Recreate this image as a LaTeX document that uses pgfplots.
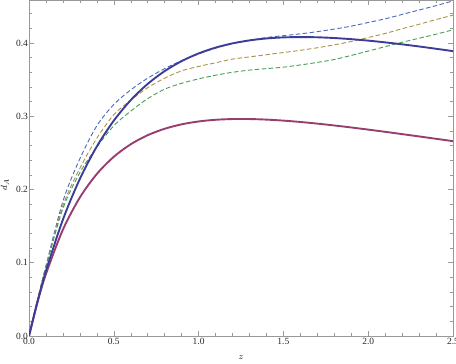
\documentclass[border=0pt]{standalone}
\usepackage{fontspec}
\setmainfont{Liberation Serif}
\usepackage{pgfplots}
\pgfplotsset{compat=1.18}
\definecolor{mblue}{rgb}{0.24,0.24,0.6}
\definecolor{mmag}{rgb}{0.6,0.24,0.44}
\definecolor{dblue}{rgb}{0.28,0.42,0.72}
\definecolor{dolive}{rgb}{0.66,0.58,0.28}
\definecolor{dgreen}{rgb}{0.26,0.62,0.35}
\begin{document}
\begin{tikzpicture}
\begin{axis}[
  scale only axis, width=424bp, height=336bp,
  xmin=0, xmax=2.5, ymin=0, ymax=0.4587,
  axis line style={gray!80},
  every tick/.style={gray!80, line width=0.5bp},
  major tick length=5bp, minor tick length=2.7bp,
  tick align=inside,
  xtick={0,0.5,1,1.5,2,2.5}, minor xtick={0.1,0.2,...,2.45},
  ytick={0,0.1,0.2,0.3,0.4}, minor ytick={0.02,0.04,...,0.46},
  xticklabel style={/pgf/number format/.cd, fixed, fixed zerofill, precision=1, assume math mode=true},
  yticklabel style={/pgf/number format/.cd, fixed, fixed zerofill, precision=1, assume math mode=true},
  tick label style={font=\fontsize{9.5}{11}\selectfont, text=black!85},
  xticklabel shift=-1.5bp, yticklabel shift=-2.5bp,
  xlabel={$z$}, ylabel={$d_A$},
  label style={font=\fontsize{9.5}{11}\selectfont},
  xlabel style={at={(axis description cs:0.5,-0.063)}, anchor=center},
  ylabel style={at={(axis description cs:-0.057,0.45)}, anchor=center, rotate=0},
  clip=true,
]
% dashed curves
\addplot[dblue, line width=0.9bp, dash pattern=on 4.5bp off 2.5bp, smooth] coordinates {
(0,0) (0.05,0.0488) (0.1,0.096) (0.2,0.184) (0.3,0.242) (0.4,0.287) (0.5,0.316)
(0.6,0.336) (0.7,0.352) (0.8,0.365) (0.9,0.376) (1.0,0.385) (1.1,0.393) (1.2,0.399)
(1.3,0.4035) (1.4,0.4075) (1.5,0.410) (1.6,0.4125) (1.7,0.4155) (1.8,0.419) (1.9,0.423)
(2.0,0.428) (2.1,0.433) (2.2,0.439) (2.3,0.445) (2.4,0.451) (2.5,0.4575)};
\addplot[dolive, line width=0.9bp, dash pattern=on 4.5bp off 2.5bp, smooth] coordinates {
(0,0) (0.05,0.0486) (0.1,0.095) (0.2,0.178) (0.3,0.229) (0.4,0.270) (0.5,0.302)
(0.6,0.322) (0.7,0.339) (0.8,0.352) (0.9,0.362) (1.0,0.368) (1.1,0.373) (1.2,0.378)
(1.3,0.381) (1.4,0.384) (1.5,0.387) (1.6,0.390) (1.7,0.3935) (1.8,0.3975) (1.9,0.402)
(2.0,0.4075) (2.1,0.413) (2.2,0.4195) (2.3,0.4255) (2.4,0.432) (2.5,0.438)};
\addplot[dgreen, line width=0.9bp, dash pattern=on 4.5bp off 2.5bp, smooth] coordinates {
(0,0) (0.05,0.0484) (0.1,0.094) (0.2,0.174) (0.3,0.223) (0.4,0.258) (0.5,0.287)
(0.6,0.307) (0.7,0.324) (0.8,0.337) (0.9,0.345) (1.0,0.351) (1.1,0.356) (1.2,0.360)
(1.3,0.363) (1.4,0.365) (1.5,0.367) (1.6,0.370) (1.7,0.3735) (1.8,0.3775) (1.9,0.383)
(2.0,0.389) (2.1,0.395) (2.2,0.401) (2.3,0.4065) (2.4,0.412) (2.5,0.418)};
% solid curves
\addplot[mmag, line width=1.9bp, smooth] coordinates {
(0,0) (0.05,0.04590) (0.1,0.08462) (0.2,0.14521) (0.3,0.18914) (0.4,0.22121) (0.5,0.24467)
(0.6,0.26179) (0.7,0.27416) (0.8,0.28293) (0.9,0.28897) (1.0,0.29289) (1.1,0.29517)
(1.2,0.29618) (1.3,0.29619) (1.4,0.29542) (1.5,0.29403) (1.6,0.29218) (1.7,0.28994)
(1.8,0.28742) (1.9,0.28468) (2.0,0.28177) (2.1,0.27874) (2.2,0.27561) (2.3,0.27244)
(2.4,0.26922) (2.5,0.26599)};
\addplot[mblue, line width=1.9bp, smooth] coordinates {
(0,0) (0.05,0.04708) (0.1,0.08881) (0.2,0.15890) (0.3,0.21451) (0.4,0.25876) (0.5,0.29399)
(0.6,0.32199) (0.7,0.34418) (0.8,0.36164) (0.9,0.37527) (1.0,0.38577) (1.1,0.39368)
(1.2,0.39949) (1.3,0.40356) (1.4,0.40620) (1.5,0.40765) (1.6,0.40812) (1.7,0.40779)
(1.8,0.40679) (1.9,0.40524) (2.0,0.40324) (2.1,0.40086) (2.2,0.39818) (2.3,0.39526)
(2.4,0.39213) (2.5,0.38885)};
\end{axis}
\pgfresetboundingbox
\useasboundingbox (-29bp,-28bp) rectangle (427bp,336bp);
\end{tikzpicture}
\end{document}
